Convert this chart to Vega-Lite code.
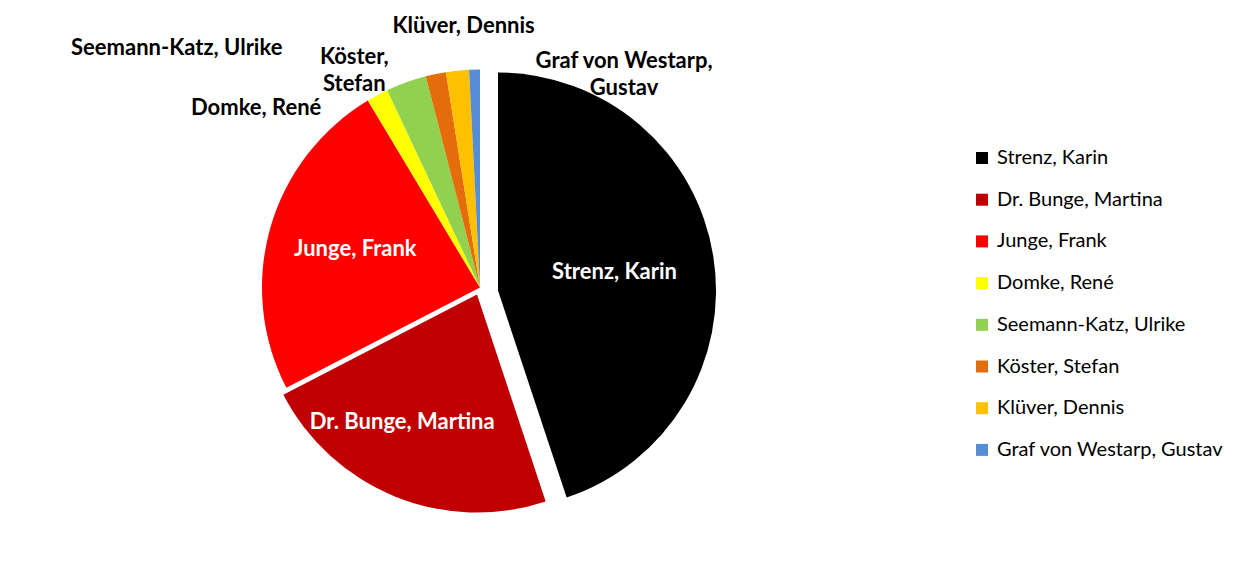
{
  "$schema": "https://vega.github.io/schema/vega-lite/v6.json",
  "width": 960,
  "height": 575,
  "padding": 0,
  "autosize": {"type": "pad"},
  "background": "white",
  "config": {"view": {"stroke": null}, "font": "Lato"},
  "data": {
    "values": [
      {"rank": 1, "name": "Strenz, Karin", "value": 44.9},
      {"rank": 2, "name": "Dr. Bunge, Martina", "value": 22.5},
      {"rank": 3, "name": "Junge, Frank", "value": 24.0},
      {"rank": 4, "name": "Domke, René", "value": 1.6},
      {"rank": 5, "name": "Seemann-Katz, Ulrike", "value": 3.0},
      {"rank": 6, "name": "Köster, Stefan", "value": 1.5},
      {"rank": 7, "name": "Klüver, Dennis", "value": 1.7},
      {"rank": 8, "name": "Graf von Westarp, Gustav", "value": 0.8}
    ]
  },
  "encoding": {
    "theta": {"field": "value", "type": "quantitative", "stack": true},
    "order": {"field": "rank", "type": "quantitative"}
  },
  "layer": [
    {
      "mark": {"type": "arc", "radius": 218, "stroke": null},
      "encoding": {
        "color": {
          "field": "name", "type": "nominal",
          "scale": {
            "domain": ["Strenz, Karin", "Dr. Bunge, Martina", "Junge, Frank", "Domke, René", "Seemann-Katz, Ulrike", "Köster, Stefan", "Klüver, Dennis", "Graf von Westarp, Gustav"],
            "range": ["#000000", "#C00000", "#FF0000", "#FFFF00", "#92D050", "#E46C0A", "#FFC000", "#558ED5"]
          },
          "legend": {
            "orient": "none", "legendX": 972, "legendY": 148, "title": null,
            "symbolType": "square", "symbolSize": 144, "symbolOpacity": 1, "symbolStrokeWidth": 0,
            "labelFontSize": 20, "labelFont": "Lato", "labelColor": "#000000", "labelOffset": 5,
            "rowPadding": 21.7, "labelLimit": 400
          }
        },
        "opacity": {"condition": {"test": "datum.rank >= 3", "value": 1}, "value": 0}
      }
    },
    {
      "mark": {"type": "arc", "radius": 218, "stroke": null, "xOffset": -3, "yOffset": 7},
      "encoding": {
        "color": {"field": "name", "type": "nominal"},
        "opacity": {"condition": {"test": "datum.rank == 2", "value": 1}, "value": 0}
      }
    },
    {
      "mark": {"type": "arc", "radius": 218, "stroke": null, "xOffset": 18, "yOffset": 3},
      "encoding": {
        "color": {"field": "name", "type": "nominal"},
        "opacity": {"condition": {"test": "datum.rank == 1", "value": 1}, "value": 0}
      }
    },
    {
      "mark": {"type": "text", "radius": 118, "xOffset": 18, "yOffset": 3, "fontSize": 22, "fontWeight": "bold", "color": "#FFFFFF"},
      "encoding": {"text": {"condition": {"test": "datum.rank == 1", "field": "name"}, "value": ""}}
    },
    {
      "mark": {"type": "text", "radius": 140, "dx": -25, "dy": 5, "fontSize": 22, "fontWeight": "bold", "color": "#FFFFFF"},
      "encoding": {"text": {"condition": {"test": "datum.rank == 2", "field": "name"}, "value": ""}}
    },
    {
      "mark": {"type": "text", "radius": 140, "dx": 10, "dy": 0, "fontSize": 22, "fontWeight": "bold", "color": "#FFFFFF"},
      "encoding": {"text": {"condition": {"test": "datum.rank == 3", "field": "name"}, "value": ""}}
    },
    {
      "mark": {"type": "text", "radius": 255, "dx": 10, "dy": -8, "fontSize": 22, "fontWeight": "bold", "color": "#000000"},
      "encoding": {"text": {"condition": {"test": "datum.rank == 7", "field": "name"}, "value": ""}}
    },
    {
      "mark": {"type": "text", "radius": 235, "dx": 150, "dy": 8, "align": "center", "lineBreak": "\n", "lineHeight": 27, "fontSize": 22, "fontWeight": "bold", "color": "#000000"},
      "encoding": {"text": {"condition": {"test": "datum.rank == 8", "value": "Graf von Westarp,\nGustav"}, "value": ""}}
    },
    {
      "mark": {"type": "text", "radius": 245, "dx": -76, "dy": 9, "align": "center", "lineBreak": "\n", "lineHeight": 27, "fontSize": 22, "fontWeight": "bold", "color": "#000000"},
      "encoding": {"text": {"condition": {"test": "datum.rank == 6", "value": "Köster,\nStefan"}, "value": ""}}
    },
    {
      "mark": {"type": "text", "radius": 235, "dx": -118, "dy": -18, "align": "right", "fontSize": 22, "fontWeight": "bold", "color": "#000000"},
      "encoding": {"text": {"condition": {"test": "datum.rank == 5", "field": "name"}, "value": ""}}
    },
    {
      "mark": {"type": "text", "radius": 235, "dx": -48, "dy": 28, "align": "right", "fontSize": 22, "fontWeight": "bold", "color": "#000000"},
      "encoding": {"text": {"condition": {"test": "datum.rank == 4", "field": "name"}, "value": ""}}
    }
  ]
}
